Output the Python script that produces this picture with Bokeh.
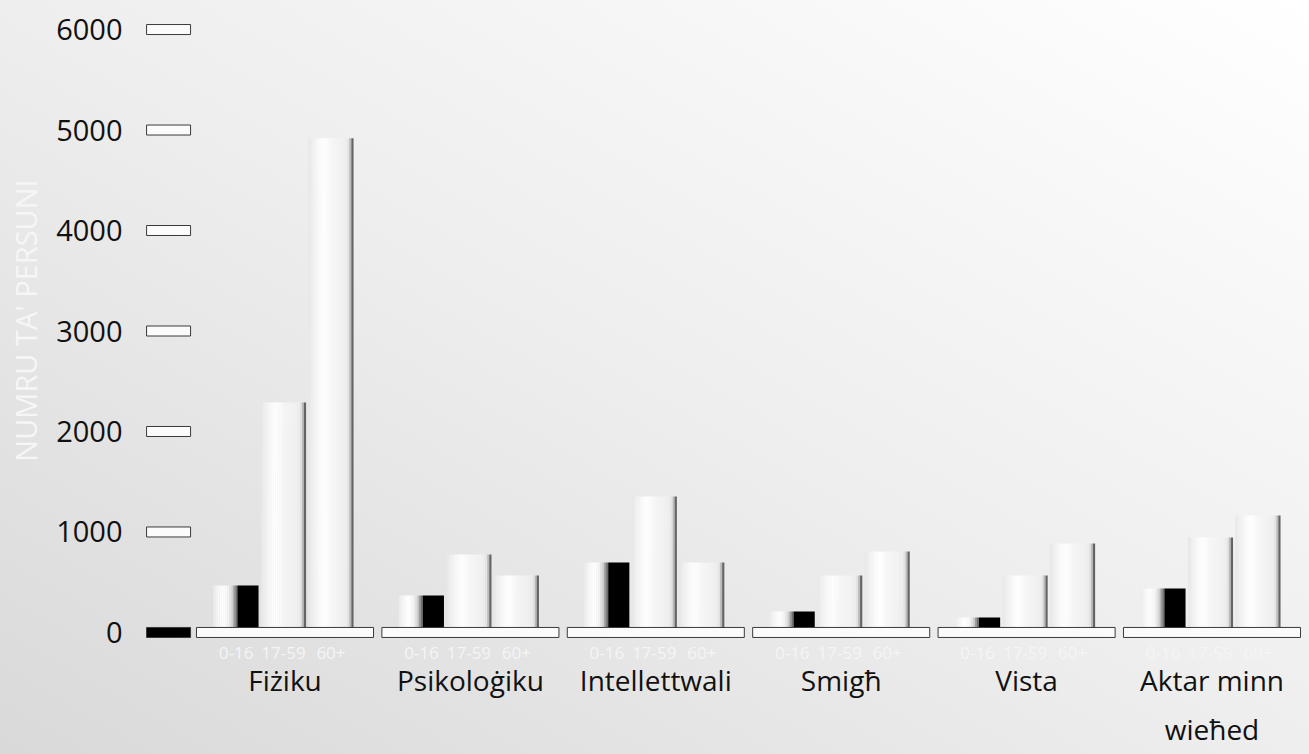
import numpy as np
from bokeh.plotting import figure
from bokeh.models import Range1d, FixedTicker, LinearAxis, ColumnDataSource
from bokeh.embed import file_html
from bokeh.resources import INLINE

# ---------------- data ----------------
categories = ["Fiżiku", "Psikoloġiku", "Intellettwali", "Smigħ", "Vista", "Aktar minn\nwieħed"]
age_groups = ["0-16", "17-59", "60+"]
values_0_16 = [468, 368, 697, 209, 149, 438]
values_17_59 = [2289, 776, 1353, 567, 567, 945]
values_60_plus = [4918, 567, 697, 806, 886, 1164]
y_ticks = [0, 1000, 2000, 3000, 4000, 5000, 6000]
y_title = "NUMRU TA' PERSUNI"

# ---------------- layout constants ----------------
FONT = "Open Sans"
W, H = 1309, 754
LEFT_PANEL = 140
BOTTOM_PANEL = 114
offsets = [-0.264, -0.008, 0.248]    # bar centre offsets within a category (category units)
bar_w = 0.2427
white_part = 0.53                    # share of the 0-16 bar drawn light, rest black
group_w = 0.955
tick_x = -0.628

p = figure(width=W, height=H, output_backend="svg", toolbar_location=None,
           x_range=Range1d(-0.7794, 5.5259), y_range=Range1d(-80, 6289),
           min_border_left=LEFT_PANEL, min_border_right=0, min_border_top=0,
           min_border_bottom=BOTTOM_PANEL)
p.background_fill_color = None
p.border_fill_color = None
p.outline_line_color = None
p.grid.visible = False
p.styles = {"background": "linear-gradient(to top right, #d9d9d9 0%, #eeeeee 50%, #ffffff 100%)"}

# ---------------- gradient bars ----------------
prof_t = [0.0, 0.08, 0.25, 0.36, 0.5, 0.75, 0.87, 0.92, 0.95, 0.98, 1.0]
prof_g = [230, 238, 251, 255, 247, 241, 236, 210, 150, 95, 115]
prof_small_t = [0.0, 0.15, 0.4, 0.6, 0.78, 0.9, 1.0]
prof_small_g = [234, 244, 255, 246, 212, 140, 90]
N = 22

def hexg(g):
    g = int(round(g))
    return "#%02x%02x%02x" % (g, g, g)

xs, ws, tops, cols = [], [], [], []
def add_strips(left, width, top, pt, pg, n):
    for k in range(n):
        t = (k + 0.5) / n
        xs.append(left + (k + 0.5) * width / n)
        ws.append(width / n * 1.06)
        tops.append(top)
        cols.append(hexg(np.interp(t, pt, pg)))

black_x, black_w, black_top = [], [], []
for i in range(len(categories)):
    left = i + offsets[0] - bar_w / 2
    add_strips(left, bar_w * white_part, values_0_16[i], prof_small_t, prof_small_g, 12)
    black_x.append(left + bar_w * white_part + bar_w * (1 - white_part) / 2)
    black_w.append(bar_w * (1 - white_part))
    black_top.append(values_0_16[i])
    for off, vals in ((offsets[1], values_17_59), (offsets[2], values_60_plus)):
        add_strips(i + off - bar_w / 2, bar_w, vals[i], prof_t, prof_g, N)

strips = ColumnDataSource(dict(x=xs, w=ws, top=tops, c=cols))
p.vbar(x="x", width="w", top="top", bottom=0, source=strips,
       fill_color="c", line_color=None)
p.vbar(x=black_x, width=black_w, top=black_top, bottom=0,
       fill_color="#000000", line_color=None)

# category base plates
p.rect(x=list(range(len(categories))), y=0, width=group_w, height=10,
       height_units="screen", fill_color="#fbfbfb", line_color="#3a3a3a", line_width=1)

# y tick plates
p.rect(x=tick_x, y=y_ticks, width=44, height=10, width_units="screen", height_units="screen",
       fill_color=["#000000" if v == 0 else "#fbfbfb" for v in y_ticks],
       line_color="#3a3a3a", line_width=1)

# ---------------- axes ----------------
ya = p.yaxis[0]
ya.ticker = FixedTicker(ticks=y_ticks)
ya.axis_line_color = None
ya.major_tick_line_color = None
ya.minor_tick_line_color = None
ya.major_label_standoff = 12
ya.major_label_text_font = FONT
ya.major_label_text_font_size = "29px"
ya.major_label_text_color = "#111111"
ya.axis_label = y_title
ya.axis_label_text_font = FONT
ya.axis_label_text_font_size = "29px"
ya.axis_label_text_font_style = "normal"
ya.axis_label_text_color = "#f6f6f6"
ya.axis_label_standoff = 8

sub_ticks = [i + off for i in range(len(categories)) for off in offsets]
sub_labels = {t: age_groups[k % 3] for k, t in enumerate(sub_ticks)}
xa = p.xaxis[0]
xa.ticker = FixedTicker(ticks=sub_ticks)
xa.major_label_overrides = sub_labels
xa.axis_line_color = None
xa.major_tick_line_color = None
xa.minor_tick_line_color = None
xa.major_label_standoff = 0
xa.major_label_text_font = FONT
xa.major_label_text_font_size = "17px"
xa.major_label_text_color = "#f5f5f5"

ca = LinearAxis(ticker=FixedTicker(ticks=list(range(len(categories)))),
                major_label_overrides={i: c for i, c in enumerate(categories)})
ca.axis_line_color = None
ca.major_tick_line_color = None
ca.minor_tick_line_color = None
ca.major_label_standoff = -7
ca.major_label_text_font = FONT
ca.major_label_text_font_size = "28px"
ca.major_label_text_color = "#111111"
ca.major_label_text_line_height = 1.3
p.add_layout(ca, "below")

open("out.html", "w").write(file_html(p, INLINE))
